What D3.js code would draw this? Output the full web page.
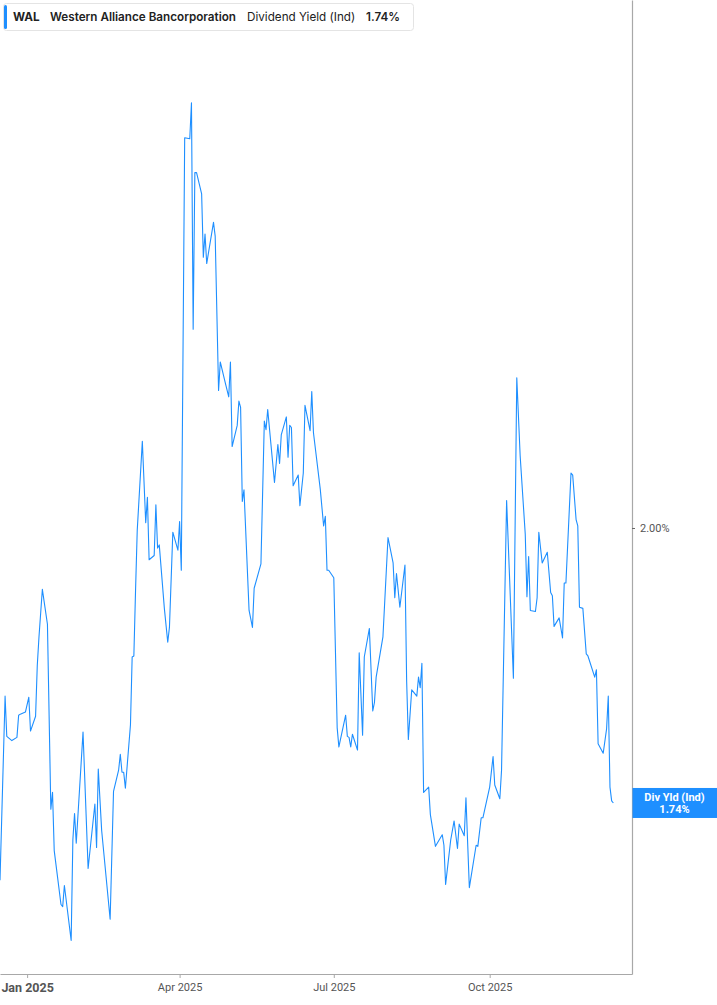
<!DOCTYPE html>
<html><head><meta charset="utf-8">
<script src="https://cdn.jsdelivr.net/npm/d3@7"></script>
<style>
body{margin:0;background:#fff;}
svg{display:block;font-family:Inter, Roboto, "Noto Sans", sans-serif;}
</style>
</head><body>
<svg id="c" width="717" height="1005"></svg>
<script>
const dates = ["2024-12-16","2024-12-19","2024-12-20","2024-12-23","2024-12-26","2024-12-27","2024-12-28","2024-12-31",
"2025-01-02","2025-01-03","2025-01-06","2025-01-07","2025-01-08","2025-01-10","2025-01-13","2025-01-15","2025-01-16","2025-01-17",
"2025-01-21","2025-01-22","2025-01-23","2025-01-27","2025-01-28","2025-01-29","2025-01-30","2025-02-03","2025-02-06","2025-02-10",
"2025-02-11","2025-02-12","2025-02-14","2025-02-19","2025-02-21","2025-02-24","2025-02-25","2025-02-26","2025-02-27","2025-02-28",
"2025-03-03","2025-03-04","2025-03-05","2025-03-06","2025-03-07","2025-03-10","2025-03-12","2025-03-13","2025-03-14","2025-03-17",
"2025-03-18","2025-03-19","2025-03-20","2025-03-23","2025-03-25","2025-03-26","2025-03-28","2025-03-31","2025-04-01","2025-04-02",
"2025-04-04","2025-04-07","2025-04-08","2025-04-09","2025-04-10","2025-04-11","2025-04-14","2025-04-15","2025-04-16","2025-04-17",
"2025-04-21","2025-04-22","2025-04-24","2025-04-25","2025-04-28","2025-04-30","2025-05-01","2025-05-02","2025-05-05","2025-05-06",
"2025-05-07","2025-05-08","2025-05-09","2025-05-12","2025-05-14","2025-05-15","2025-05-19","2025-05-21","2025-05-22","2025-05-23",
"2025-05-27","2025-05-29","2025-05-30","2025-05-31","2025-06-03","2025-06-04","2025-06-05","2025-06-06","2025-06-07","2025-06-10",
"2025-06-11","2025-06-13","2025-06-14","2025-06-17","2025-06-18","2025-06-19","2025-06-23","2025-06-25","2025-06-26","2025-06-27",
"2025-06-28","2025-07-01","2025-07-03","2025-07-04","2025-07-08","2025-07-09","2025-07-10","2025-07-11","2025-07-12","2025-07-15",
"2025-07-16","2025-07-18","2025-07-19","2025-07-22","2025-07-24","2025-07-25","2025-07-26","2025-07-30","2025-08-02","2025-08-05",
"2025-08-06","2025-08-07","2025-08-09","2025-08-12","2025-08-13","2025-08-14","2025-08-16","2025-08-19","2025-08-20","2025-08-21",
"2025-08-22","2025-08-23","2025-08-26","2025-08-27","2025-08-30","2025-09-03","2025-09-04","2025-09-05","2025-09-08","2025-09-10",
"2025-09-12","2025-09-13","2025-09-16","2025-09-17","2025-09-19","2025-09-23","2025-09-24","2025-09-26","2025-09-27","2025-10-01",
"2025-10-03","2025-10-04","2025-10-07","2025-10-08","2025-10-11","2025-10-15","2025-10-17","2025-10-19","2025-10-22","2025-10-23",
"2025-10-24","2025-10-25","2025-10-28","2025-10-29","2025-10-30","2025-11-01","2025-11-04","2025-11-06","2025-11-07","2025-11-08",
"2025-11-11","2025-11-13","2025-11-14","2025-11-15","2025-11-18","2025-11-19","2025-11-21","2025-11-22","2025-11-23","2025-11-25",
"2025-11-27","2025-11-28","2025-12-02","2025-12-03","2025-12-04","2025-12-07","2025-12-09","2025-12-10","2025-12-11","2025-12-12",
"2025-12-13"];
const yields = [1.667,1.841,1.803,1.799,1.802,1.823,1.824,1.826,
1.840,1.808,1.822,1.870,1.897,1.942,1.909,1.734,1.750,1.695,
1.644,1.642,1.662,1.610,1.705,1.730,1.702,1.807,1.678,1.739,
1.698,1.772,1.714,1.630,1.751,1.771,1.786,1.769,1.769,1.754,
1.814,1.878,1.879,1.941,1.998,2.082,2.005,2.029,1.970,1.974,
2.022,1.981,1.984,1.924,1.892,1.906,1.996,1.979,2.006,1.960,
2.369,2.368,2.402,2.188,2.336,2.336,2.316,2.256,2.278,2.250,
2.289,2.276,2.130,2.157,2.137,2.124,2.157,2.077,2.097,2.120,
2.114,2.025,2.036,1.922,1.906,1.943,1.966,2.101,2.093,2.112,
2.043,2.079,2.061,2.088,2.105,2.067,2.097,2.095,2.040,2.050,
2.021,2.052,2.116,2.092,2.129,2.090,2.037,2.002,2.011,1.960,
1.960,1.953,1.811,1.793,1.823,1.803,1.802,1.793,1.805,1.790,
1.882,1.804,1.878,1.905,1.827,1.835,1.859,1.897,1.991,1.967,
1.934,1.957,1.925,1.965,1.855,1.800,1.847,1.841,1.859,1.849,
1.872,1.750,1.755,1.729,1.699,1.710,1.700,1.663,1.705,1.723,
1.697,1.720,1.709,1.745,1.660,1.700,1.699,1.726,1.726,1.755,
1.784,1.757,1.744,1.771,2.026,1.858,2.142,2.068,1.994,1.935,
1.973,1.922,1.921,1.934,1.996,1.967,1.977,1.939,1.936,1.907,
1.915,1.896,1.948,1.948,2.052,2.050,2.008,2.002,1.925,1.924,
1.881,1.879,1.859,1.866,1.796,1.787,1.810,1.841,1.755,1.742,
1.740];

const xTickDates = ["2025-01-01","2025-04-01","2025-07-01","2025-10-01"];
const xTickLabels = ["Jan 2025","Apr 2025","Jul 2025","Oct 2025"];
const yTickValues = [2.00];
const legendTicker = "WAL";
const legendName = "Western Alliance Bancorporation";
const legendMetric = "Dividend Yield (Ind)";
const lastLabel = "Div Yld (Ind)";
const lastValue = yields[yields.length - 1];

const parse = d3.timeParse("%Y-%m-%d");
const data = dates.map((d, i) => ({date: parse(d), v: yields[i]}));

const W = 632, H = 974;
const BLUE = "#1e8fff";
const svg = d3.select("#c");

const x = d3.scaleTime()
  .domain([parse("2024-12-16"), parse("2025-12-24")])
  .range([0, W]);
const y = d3.scaleLinear()
  .domain([1.5783, 2.4992])
  .range([H, 0]);

// line
svg.append("path")
  .datum(data)
  .attr("fill", "none")
  .attr("stroke", BLUE)
  .attr("stroke-width", 1.1)
  .attr("stroke-linejoin", "round")
  .attr("d", d3.line().x(d => x(d.date)).y(d => y(d.v)));

// bottom axis
const gx = svg.append("g")
  .attr("transform", `translate(0,${H})`)
  .call(d3.axisBottom(x)
    .tickValues(xTickDates.map(parse))
    .tickFormat((d, i) => xTickLabels[i])
    .tickSize(4)
    .tickSizeOuter(0));
gx.select(".domain").attr("stroke", "#a8a8a8").attr("stroke-width", 1.2);
gx.selectAll(".tick line").attr("stroke", "#a8a8a8");
gx.selectAll(".tick text")
  .attr("fill", "#555")
  .attr("dy", "0.9em")
  .style("font-family", "Roboto, Inter, sans-serif")
  .style("font-weight", (d, i) => i === 0 ? "700" : "400")
  .style("font-size", (d, i) => i === 0 ? "12.5px" : "11px");

// right axis
const gy = svg.append("g")
  .attr("transform", `translate(${W},0)`)
  .call(d3.axisRight(y)
    .tickValues(yTickValues)
    .tickFormat(d => d.toFixed(2) + "%")
    .tickSize(3)
    .tickSizeOuter(0));
gy.select(".domain").attr("stroke", "#a8a8a8").attr("stroke-width", 1.2);
gy.selectAll(".tick line").attr("stroke", "#666");
gy.selectAll(".tick text")
  .attr("fill", "#555")
  .attr("x", 8)
  .style("font-family", "Roboto, Inter, sans-serif")
  .style("font-size", "11px");

// last value label
const ly = y(lastValue);
svg.append("rect")
  .attr("x", W + 0.5).attr("y", ly - 15)
  .attr("width", 717 - W).attr("height", 30)
  .attr("fill", BLUE);
const lt = svg.append("text")
  .attr("x", W + (717 - W) / 2)
  .attr("text-anchor", "middle")
  .attr("fill", "#fff")
  .style("font-family", "Roboto, Inter, sans-serif")
  .style("font-size", "11px")
  .style("font-weight", "700");
lt.append("tspan").attr("x", W + (717 - W) / 2).attr("y", ly - 2).text(lastLabel);
lt.append("tspan").attr("x", W + (717 - W) / 2).attr("y", ly + 10).text(lastValue.toFixed(2) + "%");

// legend
const lg = svg.append("g");
lg.append("rect")
  .attr("x", 3.5).attr("y", 3.5).attr("width", 410).attr("height", 27).attr("rx", 3)
  .attr("fill", "#fff").attr("stroke", "#e4e4e4");
lg.append("rect")
  .attr("x", 4).attr("y", 5).attr("width", 3).attr("height", 24).attr("rx", 1.5)
  .attr("fill", BLUE);
const legendItems = [
  {t: legendTicker, x: 13, w: 700},
  {t: legendName, x: 50, w: 600},
  {t: legendMetric, x: 247, w: 400},
  {t: lastValue.toFixed(2) + "%", x: 366, w: 600}
];
lg.selectAll("text.lg").data(legendItems).join("text")
  .attr("class", "lg")
  .attr("x", d => d.x).attr("y", 21)
  .attr("fill", "#222")
  .style("font-size", "11.7px")
  .style("font-weight", d => d.w)
  .text(d => d.t);
</script>
</body></html>
